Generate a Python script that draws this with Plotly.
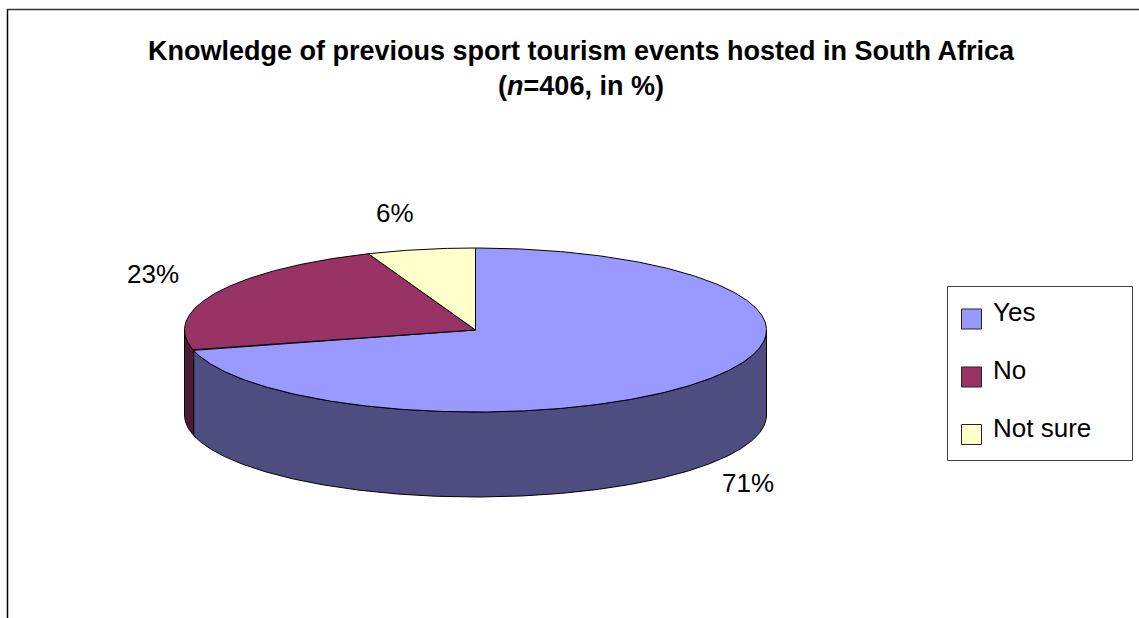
import numpy as np
import plotly.graph_objects as go

categories = ["Yes", "No", "Not sure"]
values = [71, 23, 6]
value_labels = ["71%", "23%", "6%"]
top_colors = ["#9999FF", "#993366", "#FFFFCC"]
wall_colors = ["#4D4D80", "#4D1A33", "#808066"]

W, H = 1139, 618
CX, CY, RX, RY, DEPTH = 475.5, 330, 291, 82, 85
LABEL_SHIFT = [(43, 103), (-63, -19), (-26, -36)]


def arc(a0, a1, dy=0.0):
    t = np.radians(np.linspace(a0, a1, max(2, int(abs(a1 - a0) * 2) + 1)))
    return CX + RX * np.sin(t), CY + dy - RY * np.cos(t)


fig = go.Figure()
edges = np.concatenate([[0], np.cumsum(values)]) / sum(values) * 360

# side walls: only the part of each slice that faces the viewer (90..270 deg)
for i, cat in enumerate(categories):
    a0, a1 = max(edges[i], 90), min(edges[i + 1], 270)
    if a1 <= a0:
        continue
    xt, yt = arc(a0, a1)
    xb, yb = arc(a1, a0, DEPTH)
    fig.add_trace(go.Scatter(
        x=np.r_[xt, xb, xt[0]], y=np.r_[yt, yb, yt[0]], mode="lines", fill="toself",
        fillcolor=wall_colors[i], line=dict(color="black", width=1), hoverinfo="skip", showlegend=False))

# top faces
for i, cat in enumerate(categories):
    xa, ya = arc(edges[i], edges[i + 1])
    fig.add_trace(go.Scatter(
        x=np.r_[CX, xa, CX], y=np.r_[CY, ya, CY], mode="lines", fill="toself",
        fillcolor=top_colors[i], line=dict(color="black", width=1), name=cat,
        text=f"{cat}: {values[i]}%", hoverinfo="text", showlegend=False))

# legend swatches
LEG_Y = [319, 377, 434.5]
fig.add_trace(go.Scatter(
    x=[971.5] * 3, y=LEG_Y, mode="markers",
    marker=dict(symbol="square", size=20, color=top_colors, line=dict(color="#222222", width=1)),
    hoverinfo="skip", showlegend=False))

annotations = []
for i, cat in enumerate(categories):
    annotations.append(dict(x=991, y=LEG_Y[i] - 7, xref="x", yref="y", text=cat, showarrow=False,
                            xanchor="left", yanchor="middle",
                            font=dict(family="Liberation Sans", size=26, color="black")))
    mid = np.radians((edges[i] + edges[i + 1]) / 2)
    dx, dy = LABEL_SHIFT[i]
    annotations.append(dict(x=CX + RX * np.sin(mid) + dx, y=CY - RY * np.cos(mid) + dy,
                            xref="x", yref="y", text=value_labels[i], showarrow=False,
                            xanchor="center", yanchor="middle",
                            font=dict(family="Liberation Sans", size=26, color="black")))

shapes = [
    dict(type="line", xref="x", yref="y", x0=7.5, x1=7.5, y0=9, y1=618, line=dict(color="black", width=1.5)),
    dict(type="line", xref="x", yref="y", x0=7, x1=1139, y0=9.5, y1=9.5, line=dict(color="#333333", width=1.5)),
    dict(type="rect", xref="x", yref="y", x0=947.5, x1=1132.5, y0=286.5, y1=460.5,
         line=dict(color="#444444", width=1), fillcolor="white", layer="below"),
]

fig.update_layout(
    width=W, height=H, margin=dict(l=0, r=0, t=0, b=0, pad=0),
    paper_bgcolor="white", plot_bgcolor="white", showlegend=False,
    title=dict(text="<b>Knowledge of previous sport tourism events hosted in South Africa<br>(<i>n</i>=406, in %)</b>",
               x=581 / W, xanchor="center", y=1 - 60 / H, yanchor="top",
               font=dict(family="Liberation Sans", size=27, color="black")),
    xaxis=dict(range=[0, W], visible=False, fixedrange=True),
    yaxis=dict(range=[H, 0], visible=False, fixedrange=True),
    shapes=shapes, annotations=annotations,
)

fig.write_html("out.html", post_script="document.body.style.margin='0';document.body.style.overflow='hidden';",
               config=dict(displayModeBar=False))
